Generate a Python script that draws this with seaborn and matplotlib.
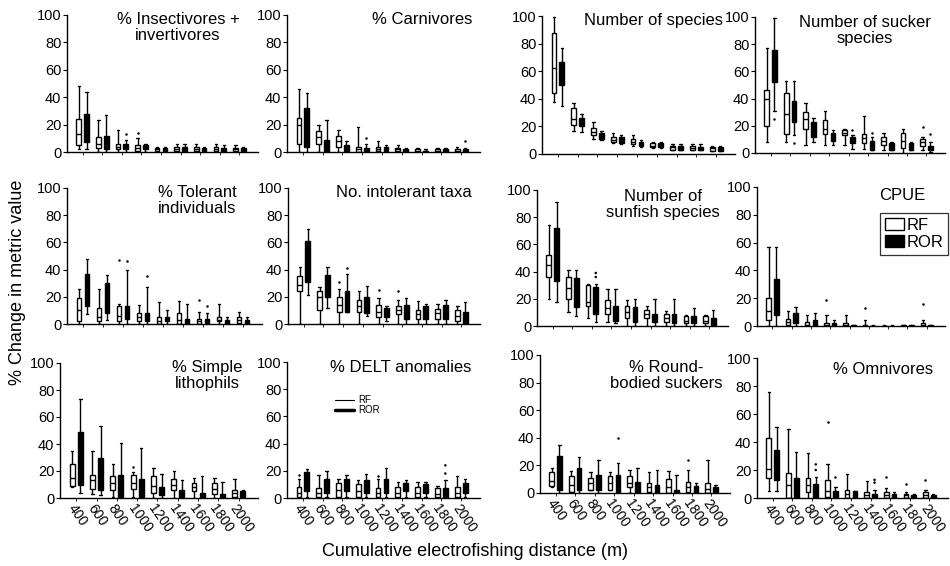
#Box plots of % change in metric value by cumulative electrofishing distance

import numpy as np
import pandas as pd
import matplotlib
matplotlib.use("Agg")
import matplotlib.pyplot as plt
import seaborn as sns
from matplotlib.patches import Patch
from matplotlib.lines import Line2D

distances = [400, 600, 800, 1000, 1200, 1400, 1600, 1800, 2000]
groups = ["RF", "ROR"]

#Each box: (whisker low, q1, median, q3, whisker high), one per distance
insect_rf = [(2, 5, 13, 24, 48), (0, 3, 6, 11, 23), (0, 2, 4, 6, 16), (0, 1, 3, 5, 10), (0, 1, 2, 3, 4),
             (0, 1, 2, 4, 6), (0, 1, 2, 4, 6), (0, 1, 2, 4, 6), (0, 1, 2, 3, 5)]
insect_ror = [(2, 7, 18, 28, 44), (0, 2, 5, 12, 27), (0, 2, 4, 6, 9), (0, 2, 3, 5, 6), (0, 1, 2, 3, 4),
              (0, 1, 2, 4, 6), (0, 1, 2, 3, 4), (0, 1, 2, 3, 5), (0, 1, 2, 3, 4)]
insect_out = [(800, "ROR", 13), (1000, "RF", 14)]

carn_rf = [(0, 6, 20, 25, 46), (0, 6, 11, 15, 20), (0, 4, 8, 12, 16), (0, 0, 2, 4, 18), (0, 1, 2, 4, 8),
           (0, 1, 2, 3, 5), (0, 0, 1, 2, 3), (0, 0, 1, 2, 3), (0, 0, 1, 2, 4)]
carn_ror = [(0, 4, 18, 32, 43), (0, 1, 5, 9, 23), (0, 1, 3, 5, 8), (0, 1, 2, 3, 6), (0, 1, 2, 4, 5),
            (0, 0, 1, 2, 3), (0, 0, 1, 1, 2), (0, 0, 1, 2, 3), (0, 0, 1, 2, 3)]
carn_out = [(1000, "ROR", 10), (2000, "ROR", 8)]

species_rf = [(38, 44, 62, 88, 99), (17, 21, 25, 33, 37), (11, 14, 16, 19, 23), (8, 9, 10, 12, 15), (6, 7, 9, 11, 14),
              (4, 5, 6, 8, 9), (3, 3, 5, 6, 7), (3, 3, 4, 6, 7), (2, 2, 4, 5, 6)]
species_ror = [(35, 50, 58, 67, 77), (16, 20, 23, 26, 29), (10, 11, 13, 15, 17), (7, 8, 10, 12, 14), (5, 6, 7, 9, 10),
               (4, 5, 6, 8, 9), (3, 3, 5, 6, 7), (3, 3, 4, 5, 7), (2, 2, 3, 5, 6)]
species_out = []

sucker_rf = [(8, 20, 40, 46, 77), (8, 14, 29, 44, 53), (6, 18, 25, 30, 37), (6, 14, 18, 24, 31), (6, 13, 15, 17, 18),
             (3, 7, 11, 14, 27), (2, 6, 9, 12, 15), (0, 4, 9, 15, 18), (2, 5, 8, 10, 12)]
sucker_ror = [(31, 52, 65, 76, 99), (13, 23, 30, 38, 53), (8, 12, 17, 23, 26), (6, 9, 12, 15, 17), (3, 7, 10, 12, 13),
              (2, 2, 5, 9, 12), (2, 2, 4, 7, 8), (2, 2, 4, 7, 8), (1, 2, 3, 5, 8)]
sucker_out = [(400, "ROR", 25), (600, "ROR", 7), (1200, "ROR", 17), (1400, "ROR", 15), (2000, "RF", 19), (2000, "ROR", 14)]

toler_rf = [(0, 2, 10, 19, 26), (0, 2, 5, 12, 26), (0, 2, 6, 13, 15), (0, 2, 5, 8, 14), (0, 0, 2, 5, 16),
            (0, 0, 3, 8, 17), (0, 0, 2, 4, 9), (0, 2, 3, 5, 15), (0, 1, 3, 5, 9)]
toler_ror = [(7, 13, 25, 37, 48), (3, 8, 20, 30, 36), (0, 4, 8, 13, 40), (0, 2, 5, 8, 27), (0, 2, 3, 5, 10),
             (0, 0, 2, 4, 15), (0, 1, 3, 4, 8), (0, 0, 1, 3, 5), (0, 0, 1, 3, 5)]
toler_out = [(800, "RF", 47), (800, "ROR", 46), (1000, "ROR", 35), (1600, "RF", 18), (1600, "ROR", 13)]

intol_rf = [(0, 24, 29, 35, 42), (0, 10, 20, 24, 27), (0, 9, 14, 20, 26), (0, 9, 13, 18, 24), (0, 5, 9, 14, 19),
            (0, 7, 10, 13, 18), (0, 4, 7, 10, 17), (0, 4, 8, 11, 15), (0, 2, 6, 10, 13)]
intol_ror = [(21, 31, 45, 61, 70), (12, 20, 28, 36, 42), (9, 9, 17, 24, 37), (6, 8, 14, 20, 28), (2, 5, 9, 12, 13),
             (0, 4, 9, 14, 19), (0, 4, 9, 13, 15), (0, 4, 9, 14, 18), (0, 0, 5, 9, 16)]
intol_out = [(800, "RF", 31), (800, "ROR", 41), (1200, "RF", 25), (1400, "RF", 24)]

sunfish_rf = [(20, 36, 45, 52, 74), (10, 20, 28, 36, 41), (6, 15, 18, 30, 31), (3, 9, 13, 19, 27), (0, 6, 10, 15, 19),
              (0, 6, 9, 12, 15), (0, 3, 6, 9, 11), (0, 2, 4, 7, 8), (0, 2, 4, 7, 8)]
sunfish_ror = [(18, 33, 55, 72, 91), (7, 14, 25, 35, 41), (3, 9, 18, 29, 31), (2, 4, 10, 15, 27), (0, 3, 8, 14, 20),
               (0, 3, 6, 9, 20), (0, 2, 5, 9, 20), (0, 2, 4, 7, 13), (0, 1, 3, 6, 12)]
sunfish_out = [(800, "ROR", 36), (800, "ROR", 39)]

cpue_rf = [(0, 4, 11, 20, 57), (0, 1, 3, 5, 11), (0, 0, 1, 3, 8), (0, 0, 1, 2, 8), (0, 0, 1, 2, 8),
           (0, 0, 0, 1, 4), (0, 0, 0, 0, 1), (0, 0, 0, 1, 1), (0, 0, 1, 2, 4)]
cpue_ror = [(0, 8, 20, 34, 57), (0, 2, 5, 9, 14), (0, 0, 2, 4, 9), (0, 0, 1, 2, 4), (0, 0, 0, 1, 1),
            (0, 0, 0, 0, 1), (0, 0, 0, 0, 1), (0, 0, 0, 1, 1), (0, 0, 0, 1, 1)]
cpue_out = [(1000, "RF", 19), (1400, "RF", 13), (2000, "RF", 16)]

litho_rf = [(8, 9, 15, 25, 35), (3, 7, 13, 17, 35), (1, 6, 11, 16, 25), (1, 7, 11, 17, 19), (0, 4, 9, 16, 22),
            (0, 6, 10, 14, 20), (0, 5, 8, 11, 15), (0, 3, 7, 11, 15), (0, 1, 4, 6, 14)]
litho_ror = [(4, 10, 30, 49, 73), (2, 6, 15, 30, 53), (0, 1, 8, 17, 41), (0, 1, 6, 14, 37), (0, 2, 5, 8, 18),
             (0, 1, 3, 6, 13), (0, 0, 2, 4, 16), (0, 0, 1, 3, 12), (0, 1, 3, 5, 6)]
litho_out = [(1000, "RF", 23)]

delt_rf = [(0, 1, 4, 8, 14), (0, 1, 4, 7, 17), (0, 1, 6, 11, 14), (0, 1, 5, 10, 13), (0, 1, 4, 7, 14),
           (0, 1, 4, 8, 12), (0, 1, 4, 8, 12), (0, 1, 3, 7, 9), (0, 1, 4, 8, 16)]
delt_ror = [(1, 5, 10, 19, 21), (1, 4, 9, 14, 20), (1, 5, 10, 14, 17), (1, 4, 8, 13, 18), (1, 4, 9, 14, 22),
            (1, 5, 8, 11, 13), (1, 4, 7, 10, 12), (1, 1, 5, 7, 13), (1, 4, 7, 11, 14)]
delt_out = [(400, "RF", 17), (1200, "RF", 16), (1800, "ROR", 18), (1800, "ROR", 24)]

round_rf = [(4, 5, 9, 15, 18), (1, 1, 6, 12, 16), (2, 2, 7, 11, 15), (2, 2, 7, 12, 15), (0, 4, 7, 12, 17),
            (0, 1, 4, 7, 15), (0, 0, 4, 10, 16), (0, 1, 4, 8, 17), (0, 0, 3, 7, 24)]
round_ror = [(0, 2, 15, 27, 35), (0, 2, 9, 18, 26), (0, 2, 6, 13, 24), (0, 0, 6, 13, 22), (0, 1, 4, 8, 18),
             (0, 0, 3, 6, 17), (0, 0, 1, 2, 13), (0, 0, 2, 5, 7), (0, 1, 2, 4, 6)]
round_out = [(1000, "ROR", 40), (1800, "RF", 24)]

omni_rf = [(5, 14, 21, 43, 76), (0, 0, 9, 18, 49), (0, 4, 9, 14, 32), (0, 1, 5, 13, 24), (0, 0, 3, 6, 17),
           (0, 0, 2, 4, 12), (0, 0, 2, 4, 7), (0, 0, 2, 3, 4), (0, 0, 2, 4, 6)]
omni_ror = [(5, 13, 26, 34, 51), (0, 0, 5, 14, 33), (0, 0, 4, 10, 15), (0, 1, 3, 5, 8), (0, 0, 3, 5, 5),
            (0, 0, 2, 3, 6), (0, 0, 1, 3, 4), (0, 0, 1, 2, 3), (0, 0, 1, 2, 3)]
omni_out = [(800, "ROR", 20), (800, "ROR", 24), (1000, "RF", 54), (1000, "ROR", 15), (1400, "ROR", 11),
            (1400, "ROR", 13), (1600, "RF", 15), (1800, "RF", 10), (2000, "RF", 13)]

titles = ["% Insectivores +\ninvertivores", "% Carnivores", "Number of species", "Number of sucker\nspecies",
          "% Tolerant\nindividuals", "No. intolerant taxa", "Number of\nsunfish species", "CPUE",
          "% Simple\nlithophils", "% DELT anomalies", "% Round-\nbodied suckers", "% Omnivores"]

panels = [(insect_rf, insect_ror, insect_out), (carn_rf, carn_ror, carn_out),
          (species_rf, species_ror, species_out), (sucker_rf, sucker_ror, sucker_out),
          (toler_rf, toler_ror, toler_out), (intol_rf, intol_ror, intol_out),
          (sunfish_rf, sunfish_ror, sunfish_out), (cpue_rf, cpue_ror, cpue_out),
          (litho_rf, litho_ror, litho_out), (delt_rf, delt_ror, delt_out),
          (round_rf, round_ror, round_out), (omni_rf, omni_ror, omni_out)]

#Layout in pixels: left, right, top (y=100), bottom (y=0)
W, H = 950, 566
axes_px = [(67, 258, 15, 152), (287, 480, 15, 152), (542, 735, 16, 154), (755, 945, 17, 153),
           (67, 262, 188, 324), (288, 480, 188, 324), (537, 728, 190, 326), (757, 945, 187, 326),
           (60, 258, 363, 498), (287, 480, 362, 498), (540, 730, 355, 493), (757, 948, 358, 498)]
title_px = [(178, 12), (422, 12), (654, 13), (865, 15),
            (197, 185), (404, 185), (663, 189), (902, 188),
            (207, 360), (401, 360), (666, 360), (883, 362)]


def make_frame(rf, ror):
    rows = []
    for g, boxes in zip(groups, [rf, ror]):
        for d, vals in zip(distances, boxes):
            for v in vals:
                rows.append({"dist": str(d), "grp": g, "val": v})
    return pd.DataFrame(rows)


sns.set_style("white")
plt.rcParams["font.family"] = ["Liberation Sans", "DejaVu Sans"]
plt.rcParams.update({"text.color": "black", "axes.labelcolor": "black",
                     "xtick.color": "black", "ytick.color": "black"})

fig = plt.figure(figsize=(W / 100, H / 100), dpi=100)
order = [str(d) for d in distances]

for i, (rf, ror, out) in enumerate(panels):
    l, r, t, b = axes_px[i]
    ax = fig.add_axes([l / W, 1 - b / H, (r - l) / W, (b - t) / H])
    df = make_frame(rf, ror)
    sns.boxplot(data=df, x="dist", y="val", hue="grp", order=order, hue_order=groups,
                palette={"RF": "white", "ROR": "black"}, linecolor="black", linewidth=1.0,
                width=0.8, gap=0.4, whis=(0, 100), showfliers=False, saturation=1,
                legend=False, ax=ax)
    if out:
        df_out = pd.DataFrame(out, columns=["dist", "grp", "val"])
        df_out["dist"] = df_out["dist"].astype(str)
        sns.stripplot(data=df_out, x="dist", y="val", hue="grp", order=order, hue_order=groups,
                      palette={"RF": "black", "ROR": "black"}, dodge=True, jitter=False,
                      size=1.8, legend=False, ax=ax)
    ax.set_xlim(-0.8, 8.95)
    ax.set_ylim(0, 100)
    ax.set_yticks([0, 20, 40, 60, 80, 100])
    ax.set_xlabel("")
    ax.set_ylabel("")
    for s in ["top", "right"]:
        ax.spines[s].set_visible(False)
    for s in ["left", "bottom"]:
        ax.spines[s].set_linewidth(1.0)
        ax.spines[s].set_color("black")
    ax.tick_params(axis="y", left=True, length=3, width=0.8, labelsize=10.5, pad=1, colors="black")
    ax.tick_params(axis="x", bottom=True, length=2, width=0.6, pad=1, colors="black")
    if i >= 8:
        ax.set_xticks(range(len(distances)))
        ax.set_xticklabels(order, rotation=-55, ha="left", va="top",
                           rotation_mode="anchor", fontsize=10)
    else:
        ax.set_xticklabels([])
    tx, ty = title_px[i]
    fig.text(tx / W, 1 - ty / H, titles[i], ha="center", va="top", fontsize=12, linespacing=1.1)
    if i == 7:
        handles = [Patch(facecolor="white", edgecolor="black", label="RF"),
                   Patch(facecolor="black", edgecolor="black", label="ROR")]
        leg = ax.legend(handles=handles, loc="upper right", bbox_to_anchor=(948 / W, 1 - 213 / H),
                        bbox_transform=fig.transFigure, fontsize=12, frameon=True, fancybox=False,
                        borderpad=0.3, labelspacing=0.1, handlelength=1.1, handleheight=0.75,
                        handletextpad=0.15, borderaxespad=0)
        leg.get_frame().set_edgecolor("black")
        leg.get_frame().set_linewidth(0.9)
    if i == 9:
        handles = [Line2D([], [], color="black", lw=0.8, label="RF"),
                   Line2D([], [], color="black", lw=2.5, label="ROR")]
        leg = ax.legend(handles=handles, loc="upper left", bbox_to_anchor=(335 / W, 1 - 395 / H),
                        bbox_transform=fig.transFigure, fontsize=7, frameon=False,
                        labelspacing=0.05, handlelength=2.0, handletextpad=0.4, borderaxespad=0,
                        borderpad=0)

fig.text(475 / W, 1 - 552 / H, "Cumulative electrofishing distance (m)", ha="center", va="center", fontsize=13)
fig.text(18 / W, 1 - 282 / H, "% Change in metric value", ha="center", va="center", rotation=90, fontsize=13)

fig.savefig("out.png", dpi=100)
